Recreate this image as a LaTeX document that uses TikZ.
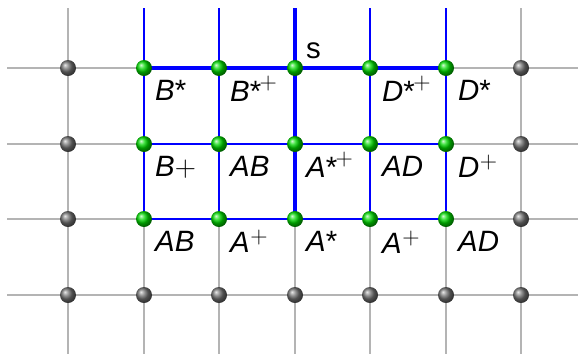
\RequirePackage{fix-cm}
\documentclass[tikz,border=0pt]{standalone}
\usepackage{fontspec}
\setmainfont{Liberation Sans}
\usetikzlibrary{calc}
\definecolor{lineblue}{RGB}{0,0,255}
\definecolor{linegray}{RGB}{180,180,180}
\newcommand\supplus[1]{\raisebox{#1}{\fontsize{24}{26}\selectfont$+$}}
\newcommand\lblS[1]{\textit{#1}*}
\newcommand\lblSP[1]{\textit{#1}*\kern-1.5bp\supplus{12bp}}
\newcommand\lblP[1]{\textit{#1}\kern0.5bp\supplus{9bp}}
\begin{document}
\begin{tikzpicture}[x=1bp,y=-1bp,
  gridline/.style={line width=1.4bp,draw=linegray},
  bluethin/.style={line width=1.6bp,draw=lineblue},
  bluethick/.style={line width=3.4bp,draw=lineblue},
  gball/.style={circle,minimum size=16bp,inner sep=0pt,shading=ball,ball color=green!85!black},
  kball/.style={circle,minimum size=16bp,inner sep=0pt,shading=ball,ball color=black!55},
  lab/.style={anchor=base west,inner sep=0pt,font=\fontsize{29.5}{32}\selectfont}]
\useasboundingbox (0,0) rectangle (578,354);
% grid coordinates
\foreach \x [count=\c from 0] in {68,144,219,295,370,446,521}{
  \foreach \y [count=\r from 0] in {68,144,219,295}{
    \coordinate (p-\c-\r) at (\x,\y);
  }
  \coordinate (top-\c) at (\x,8);
  \coordinate (bot-\c) at (\x,354);
}
\foreach \y [count=\r from 0] in {68,144,219,295}{
  \coordinate (left-\r) at (7,\y);
  \coordinate (right-\r) at (578,\y);
}
% gray grid
\foreach \c in {0,...,6} \draw[gridline] (top-\c) -- (bot-\c);
\foreach \r in {0,...,3} \draw[gridline] (left-\r) -- (right-\r);
% blue region
\draw[bluethin] (top-1) -- (p-1-2);
\draw[bluethin] (top-2) -- (p-2-2);
\draw[bluethin] (top-4) -- (p-4-2);
\draw[bluethin] (top-5) -- (p-5-2);
\draw[bluethin] (p-1-1) -- (p-5-1);
\draw[bluethin] (p-1-2) -- (p-5-2);
\draw[bluethick] (top-3) -- (p-3-2);
\draw[bluethick] (p-1-0) -- (p-5-0);
% balls
\foreach \c in {1,...,5}{
  \foreach \r in {0,1,2}{
    \node[gball] (g-\c-\r) at (p-\c-\r) {};
  }
  \node[kball] (k-\c-3) at (p-\c-3) {};
}
\foreach \c in {0,6}{
  \foreach \r in {0,...,3}{
    \node[kball] (k-\c-\r) at (p-\c-\r) {};
  }
}
% labels
\node[lab] (s) at ($(p-3-0)+(11,-10)$) {s};
\node[lab] (l10) at ($(p-1-0)+(11,32)$) {\lblS{B}};
\node[lab] (l20) at ($(p-2-0)+(11,33)$) {\lblSP{B}};
\node[lab] (l40) at ($(p-4-0)+(12,33)$) {\lblSP{D}};
\node[lab] (l50) at ($(p-5-0)+(12,32)$) {\lblS{D}};
\node[lab] (l11) at ($(p-1-1)+(11,32)$) {\textit{B}$+$};
\node[lab] (l21) at ($(p-2-1)+(11,32)$) {\textit{AB}};
\node[lab] (l31) at ($(p-3-1)+(11,33)$) {\lblSP{A}};
\node[lab] (l41) at ($(p-4-1)+(12,32)$) {\textit{AD}};
\node[lab] (l51) at ($(p-5-1)+(12,33)$) {\lblP{D}};
\node[lab] (l12) at ($(p-1-2)+(11,32)$) {\textit{AB}};
\node[lab] (l22) at ($(p-2-2)+(11,33)$) {\lblP{A}};
\node[lab] (l32) at ($(p-3-2)+(11,32)$) {\lblS{A}};
\node[lab] (l42) at ($(p-4-2)+(12,34)$) {\lblP{A}};
\node[lab] (l52) at ($(p-5-2)+(12,32)$) {\textit{AD}};
\end{tikzpicture}
\end{document}
